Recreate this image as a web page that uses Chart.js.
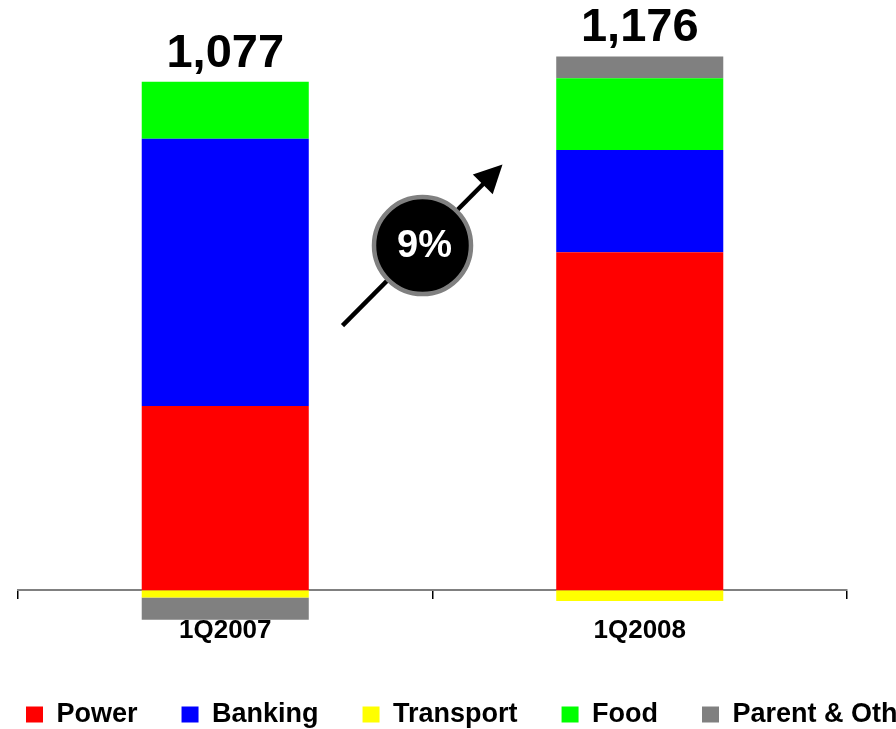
<!DOCTYPE html>
<html>
<head>
<meta charset="utf-8">
<script src="https://cdn.jsdelivr.net/npm/chart.js@4"></script>
<style>
  html, body { margin: 0; padding: 0; background: #fff; overflow: hidden; }
  /* canvas is wider than the page so the last legend item runs off the edge */
  #wrap { position: absolute; left: -18px; top: 0; width: 1060px; height: 738px; }
</style>
</head>
<body>
<div id="wrap"><canvas id="graficoSegmentos" width="1060" height="738"></canvas></div>
<script>
const quarters = ['1Q2007', '1Q2008'];
const power = [414, 760];
const banking = [601, 230];
const transport = [-16, -24];
const food = [128, 161];
const parentOther = [-50, 49];

const series = [power, banking, transport, food, parentOther];
const totals = quarters.map((q, i) => series.reduce((s, arr) => s + arr[i], 0));
const growth = Math.round((totals[1] / totals[0] - 1) * 100);

const FONT = '"Liberation Sans", Arial, sans-serif';

// totals over each stack + the growth arrow between the bars
const extras = {
  id: 'extras',
  afterDatasetsDraw(chart) {
    const { ctx, scales: { x, y } } = chart;
    ctx.save();

    ctx.fillStyle = '#000';
    ctx.font = 'bold 47px ' + FONT;
    ctx.textAlign = 'center';
    ctx.textBaseline = 'alphabetic';
    quarters.forEach((q, i) => {
      const top = series.reduce((s, arr) => s + Math.max(arr[i], 0), 0);
      ctx.fillText(totals[i].toLocaleString('en-US'), x.getPixelForValue(i), y.getPixelForValue(top) - 15);
    });

    const mid = (x.getPixelForValue(0) + x.getPixelForValue(1)) / 2;
    const x0 = mid - 90, y0 = y.getPixelForValue(595);
    const x1 = mid + 70, y1 = y.getPixelForValue(957);
    const ang = Math.atan2(y1 - y0, x1 - x0);
    const headLen = 28, headHalf = 14;
    const bx = x1 - Math.cos(ang) * headLen, by = y1 - Math.sin(ang) * headLen;

    ctx.strokeStyle = '#000';
    ctx.lineWidth = 4.5;
    ctx.beginPath();
    ctx.moveTo(x0, y0);
    ctx.lineTo(bx + Math.cos(ang) * 2, by + Math.sin(ang) * 2);
    ctx.stroke();

    ctx.beginPath();
    ctx.moveTo(x1, y1);
    ctx.lineTo(bx + Math.sin(ang) * headHalf, by - Math.cos(ang) * headHalf);
    ctx.lineTo(bx - Math.sin(ang) * headHalf, by + Math.cos(ang) * headHalf);
    ctx.closePath();
    ctx.fill();

    const cx = mid - 10, cy = y.getPixelForValue(775);
    ctx.beginPath();
    ctx.arc(cx, cy, 48.5, 0, Math.PI * 2);
    ctx.fillStyle = '#000';
    ctx.fill();
    ctx.strokeStyle = '#808080';
    ctx.lineWidth = 4.5;
    ctx.stroke();

    ctx.fillStyle = '#fff';
    ctx.font = 'bold 38px ' + FONT;
    ctx.textBaseline = 'middle';
    ctx.fillText(growth + '%', cx + 2, cy + 1);

    ctx.restore();
  }
};

function ds(label, data, color) {
  return {
    label: label,
    data: data,
    backgroundColor: color,
    borderWidth: 0,
    barPercentage: 0.403,
    categoryPercentage: 1
  };
}

new Chart(document.getElementById('graficoSegmentos'), {
  type: 'bar',
  data: {
    labels: quarters,
    datasets: [
      ds('Power', power, '#FF0000'),
      ds('Banking', banking, '#0000FF'),
      ds('Transport', transport, '#FFFF00'),
      ds('Food', food, '#00FF00'),
      ds('Parent & Other', parentOther, '#808080')
    ]
  },
  options: {
    responsive: false,
    animation: false,
    layout: { padding: { top: 12 } },
    plugins: {
      tooltip: { enabled: false },
      legend: {
        position: 'bottom',
        align: 'start',
        labels: {
          boxWidth: 17,
          boxHeight: 16,
          padding: 44,
          color: '#000',
          font: { family: FONT, size: 27, weight: 'bold' }
        }
      }
    },
    scales: {
      x: {
        stacked: true,
        position: { y: 0 },
        grid: { display: true, drawOnChartArea: false, drawTicks: true, tickLength: 8, color: '#000', lineWidth: 1.5 },
        border: { display: true, color: '#808080', width: 2 },
        ticks: { color: '#000', padding: 17, font: { family: FONT, size: 26, weight: 'bold' } }
      },
      y: {
        stacked: true,
        min: -150,
        max: 1300,
        ticks: { display: false },
        grid: { display: false },
        border: { display: false },
        afterFit: s => { s.width = 36; }
      },
      yRight: {
        position: 'right',
        ticks: { display: false },
        grid: { display: false },
        border: { display: false },
        afterFit: s => { s.width = 195; }
      }
    }
  },
  plugins: [extras]
});
</script>
</body>
</html>
